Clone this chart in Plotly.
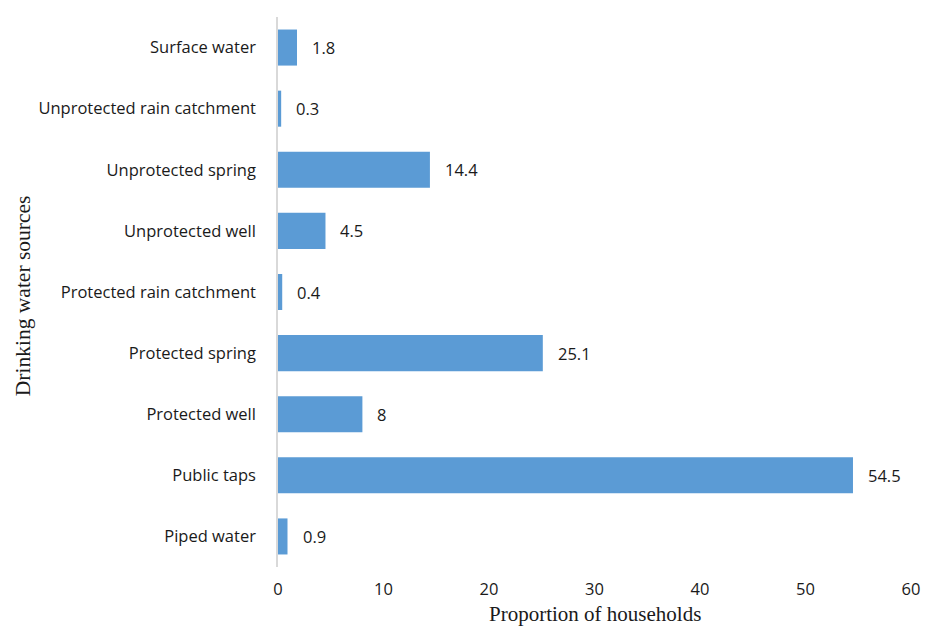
import plotly.graph_objects as go

categories = ["Piped water", "Public taps", "Protected well", "Protected spring",
              "Protected rain catchment", "Unprotected well", "Unprotected spring",
              "Unprotected rain catchment", "Surface water"]
values = [0.9, 54.5, 8, 25.1, 0.4, 4.5, 14.4, 0.3, 1.8]
x_ticks = [0, 10, 20, 30, 40, 50, 60]

sans = "Open Sans"
serif = "Liberation Serif"
txt = "#1a1a1a"
fs = 16.5

fig = go.Figure(go.Bar(
    x=values, y=categories, orientation="h",
    marker=dict(color="#5b9bd5", line=dict(width=0)),
    width=0.59,
))

for v, c in zip(values, categories):
    fig.add_annotation(x=v, y=c, text=str(v), showarrow=False, xanchor="left",
                       xshift=13, font=dict(family=sans, size=fs, color=txt))

fig.add_annotation(xref="paper", yref="paper", x=-0.403, y=0.494, text="Drinking water sources",
                   textangle=-90, showarrow=False, xanchor="center", yanchor="middle",
                   font=dict(family=serif, size=21.5, color=txt))
fig.add_annotation(xref="paper", yref="paper", x=0.5, y=-0.086, text="Proportion of households",
                   showarrow=False, xanchor="center", yanchor="middle", borderpad=0,
                   font=dict(family=serif, size=21, color=txt))

fig.update_layout(
    width=925, height=627,
    margin=dict(l=278, r=14, t=17, b=60),
    paper_bgcolor="white", plot_bgcolor="white",
    showlegend=False,
    xaxis=dict(range=[0, 60], tickvals=x_ticks, showgrid=False, zeroline=False,
               showline=False, ticks="", tickfont=dict(family=sans, size=fs, color=txt),
               ticklabelstandoff=10, fixedrange=True, automargin=False),
    yaxis=dict(categoryorder="array", categoryarray=categories, showgrid=False,
               zeroline=False, showline=True, linecolor="#d9d9d9", linewidth=1.5,
               ticks="", ticklabelstandoff=17, automargin=False,
               tickfont=dict(family=sans, size=fs, color=txt), range=[-0.5, 8.5]),
)

fig.write_html("out.html")
